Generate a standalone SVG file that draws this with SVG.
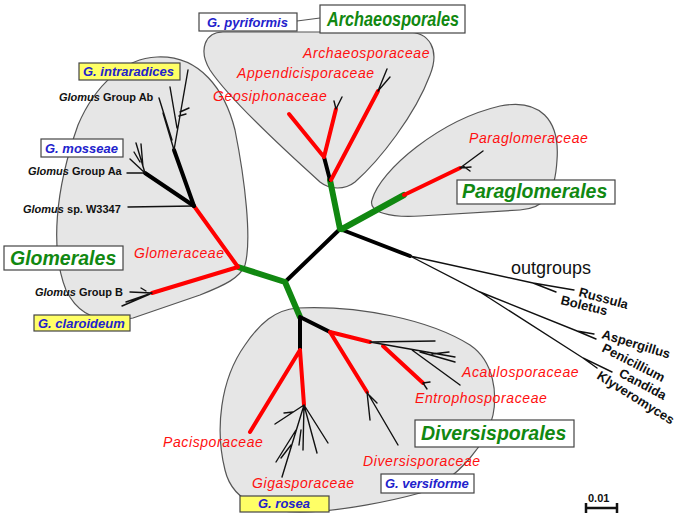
<svg xmlns="http://www.w3.org/2000/svg" width="685" height="518" viewBox="0 0 685 518">
<style>
.blob{fill:#e6e6e6;stroke:#555;stroke-width:1.2}
.box{fill:#fff;stroke:#444;stroke-width:1.2}
.ybox{fill:#ffff66;stroke:#444;stroke-width:1.2}
text{font-family:"Liberation Sans",Arial,sans-serif}
.ord{font-size:19.5px;font-weight:bold;font-style:italic;fill:#118811}
.fam{font-size:14px;font-style:italic;fill:#ff1010;letter-spacing:0.6px}
.sp{font-size:13px;font-weight:bold;font-style:italic;fill:#2222cc}
.grp{font-size:11px;font-weight:bold;fill:#111}
.og{font-size:13px;font-weight:bold;fill:#111}
.g{stroke:#118811;stroke-width:6;fill:none;stroke-linecap:round}
.r{stroke:#ff0000;stroke-width:4;fill:none;stroke-linecap:round}
.k{stroke:#000;stroke-width:4;fill:none;stroke-linecap:round}
.t{stroke:#111;stroke-width:1.4;fill:none;stroke-linecap:round}
</style>
<rect width="685" height="518" fill="#fff"/>
<g id="blobs">
<path id="blob-glomerales" class="blob" d="M157,57 C200,55 225,90 235,130 C245,180 252,240 245,265 C240,278 225,285 200,295 L133,318 C100,325 78,315 66,290 C50,250 55,190 78,125 C95,85 125,58 157,57 Z"/>
<path id="blob-archaeo" class="blob" d="M223,32 L407,32 C430,32 440,50 430,75 C415,115 380,160 355,182 C345,190 330,190 320,182 C290,155 230,100 210,70 C198,50 205,32 223,32 Z"/>
<path id="blob-paraglom" class="blob" d="M372,200 C380,170 440,120 500,106 C540,98 560,120 557,160 C555,195 545,208 520,210 L420,216 C390,218 368,212 372,200 Z"/>
<path id="blob-diversi" class="blob" d="M297,308 C360,305 430,320 470,345 C495,362 497,395 493,415 C488,440 460,480 420,493 C395,500 340,512 300,512 C260,512 232,500 225,470 C215,430 220,380 245,345 C260,323 275,310 297,308 Z"/>
</g>
<g id="connectors">
<line x1="297" y1="21" x2="320" y2="18" stroke="#555" stroke-width="1.2"/>
<path class="k" d="M340,229 L285,282"/>
<path class="k" stroke-width="3" d="M340,229 L410,256"/>
<path class="g" d="M285,282 L238,267 M285,282 L300,317 M340,229 L330,180 M342,229 L404,195"/>
<path class="k" d="M330,180 L324,157"/>
<path class="r" d="M331,180 L378,91 M324,157 L289,114 M324,157 L336,109"/>
<path class="t" d="M378,91 L387,69 M378,91 L390,77 M336,109 L334,101 M336,109 L342,97"/>
<path class="r" d="M404,195 L460,168"/>
<path class="t" d="M460,168 L483,151 M460,168 L471,167 M463,166 L470,171"/>
<path class="r" d="M238,267 L152,293 M238,267 L194,206"/>
<path class="t" d="M152,293 L130,292 M152,293 L126,302 M150,294 L122,306 M146,291 L141,288"/>
<path class="t" d="M194,206 L128,207"/>
<path class="k" d="M194,206 L145,173"/>
<path class="k" stroke-width="3" d="M194,206 L174,150"/>
<path class="t" d="M145,173 L127,173 M145,173 L130,159 M145,173 L136,143 M143,167 L141,144 M140,162 L134,152"/>
<path class="t" d="M174,150 L188,70 M172,140 L159,98 M174,150 L163,113 M177,128 L170,87 M180,112 L189,108 M179,116 L186,114"/>
<path class="k" d="M300,317 L330,332 M300,317 L300,350"/>
<path class="r" d="M300,350 L250,432 M300,350 L304,405 M330,332 L370,342 M330,332 L367,392"/>
<path class="r" stroke-width="3.5" d="M383,346 L423,383"/>
<path class="t" d="M423,383 L427,389 M423,383 L430,382"/>
<path class="t" d="M304,405 L275,424 M293,412 L284,413 M304,405 L282,477 M296,430 L276,462 M291,445 L281,458 M304,405 L328,443 M304,405 L317,453 M304,405 L303,450 M301,430 L299,445"/>
<path class="t" d="M367,392 L370,420 M367,392 L398,445 M369,395 L377,403"/>
<path class="t" d="M370,342 L435,341 M370,342 L455,357 M420,352 L455,362 M412,350 L460,385 M432,354 L449,352"/>
<path class="t" d="M410,256 L533,283 L574,290 M533,283 L556,292 M410,256 L480,292 L577,331 L594,334 M577,331 L596,339 M480,292 L583,358 L612,372 M583,358 L597,368"/>
<path stroke="#111" stroke-width="2.5" fill="none" d="M586,508 L617,508 M586,503 L586,513 M617,503 L617,513"/>
</g>
<g id="labels">
<g id="n-pyriformis"><rect class="box" x="199" y="13" width="98" height="18"/><text class="sp" x="207" y="27">G. pyriformis</text></g>
<g id="n-archaeosporales"><rect class="box" x="320" y="5" width="145" height="28"/><text class="ord" x="327" y="26" textLength="132" lengthAdjust="spacingAndGlyphs">Archaeosporales</text></g>
<g id="n-intraradices"><rect class="ybox" x="79" y="63" width="101" height="17"/><text class="sp" x="83" y="76">G. intraradices</text></g>
<g id="n-groupab"><text class="grp" x="59" y="101"><tspan font-style="italic">Glomus</tspan> Group Ab</text></g>
<g id="n-mosseae"><rect class="box" x="41" y="139" width="82" height="18"/><text class="sp" x="45" y="153">G. mosseae</text></g>
<g id="n-groupaa"><text class="grp" x="28" y="175"><tspan font-style="italic">Glomus</tspan> Group Aa</text></g>
<g id="n-w3347"><text class="grp" x="23" y="213"><tspan font-style="italic">Glomus</tspan> sp. W3347</text></g>
<g id="n-glomerales"><rect class="box" x="4" y="246" width="119" height="24"/><text class="ord" x="10" y="265">Glomerales</text></g>
<g id="n-glomeraceae"><text class="fam" x="134" y="258">Glomeraceae</text></g>
<g id="n-groupb"><text class="grp" x="35" y="296"><tspan font-style="italic">Glomus</tspan> Group B</text></g>
<g id="n-claroideum"><rect class="ybox" x="34" y="315" width="96" height="16"/><text class="sp" x="38" y="328">G. claroideum</text></g>
<g id="n-archaeosporaceae"><text class="fam" x="303" y="58">Archaeosporaceae</text></g>
<g id="n-appendicisporaceae"><text class="fam" x="237" y="78">Appendicisporaceae</text></g>
<g id="n-geosiphonaceae"><text class="fam" x="213" y="101">Geosiphonaceae</text></g>
<g id="n-paraglomeraceae"><text class="fam" x="469" y="143">Paraglomeraceae</text></g>
<g id="n-paraglomerales"><rect class="box" x="457" y="180" width="158" height="24"/><text class="ord" x="462" y="198">Paraglomerales</text></g>
<g id="n-outgroups"><text x="511" y="274" font-size="18" fill="#111">outgroups</text></g>
<g id="n-russula"><text class="og" transform="translate(578,296) rotate(15)">Russula</text></g>
<g id="n-boletus"><text class="og" transform="translate(560,304) rotate(14)">Boletus</text></g>
<g id="n-aspergillus"><text class="og" transform="translate(601,338) rotate(17)">Aspergillus</text></g>
<g id="n-penicillium"><text class="og" transform="translate(601,351) rotate(27)">Penicillium</text></g>
<g id="n-candida"><text class="og" transform="translate(618,376) rotate(28)">Candida</text></g>
<g id="n-klyveromyces"><text class="og" transform="translate(596,378) rotate(32)">Klyveromyces</text></g>
<g id="n-acaulosporaceae"><text class="fam" x="462" y="377">Acaulosporaceae</text></g>
<g id="n-entrophosporaceae"><text class="fam" x="415" y="403">Entrophosporaceae</text></g>
<g id="n-diversisporales"><rect class="box" x="415" y="420" width="159" height="27"/><text class="ord" x="421" y="440">Diversisporales</text></g>
<g id="n-diversisporaceae"><text class="fam" x="363" y="466">Diversisporaceae</text></g>
<g id="n-versiforme"><rect class="box" x="381" y="474" width="93" height="19"/><text class="sp" x="385" y="488">G. versiforme</text></g>
<g id="n-pacisporaceae"><text class="fam" x="163" y="447">Pacisporaceae</text></g>
<g id="n-gigasporaceae"><text class="fam" x="252" y="488">Gigasporaceae</text></g>
<g id="n-rosea"><rect class="ybox" x="240" y="496" width="89" height="16"/><text class="sp" x="284" y="508" text-anchor="middle">G. rosea</text></g>
<g id="n-scale"><text class="grp" x="588" y="502">0.01</text></g>
</g>
</svg>
